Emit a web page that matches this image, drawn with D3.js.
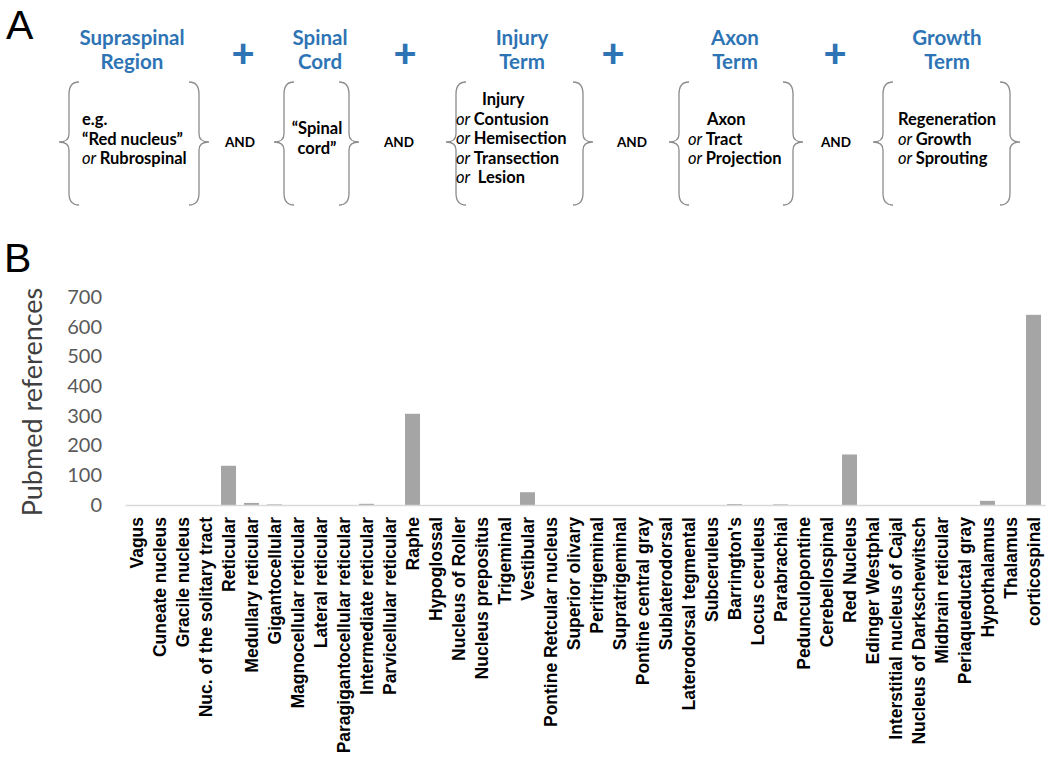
<!DOCTYPE html>
<html>
<head>
<meta charset="utf-8">
<script src="https://cdn.jsdelivr.net/npm/d3@7"></script>
<style>
  html, body { margin: 0; padding: 0; background: #fff; }
  svg { display: block; }
</style>
</head>
<body>
<svg id="chart" width="1050" height="761"></svg>
<script>
// ---------------- DATA ----------------
const categories = [
  "Vagus", "Cuneate nucleus", "Gracile nucleus", "Nuc. of the solitary tract",
  "Reticular", "Medullary reticular", "Gigantocellular", "Magnocellular reticular",
  "Lateral reticular", "Paragigantocellular reticular", "Intermediate reticular",
  "Parvicellular reticular", "Raphe", "Hypoglossal", "Nucleus of Roller",
  "Nucleus prepositus", "Trigeminal", "Vestibular", "Pontine Retcular nucleus",
  "Superior olivary", "Peritrigeminal", "Supratrigeminal", "Pontine central gray",
  "Sublaterodorsal", "Laterodorsal tegmental", "Subceruleus", "Barrington's",
  "Locus ceruleus", "Parabrachial", "Pedunculopontine", "Cerebellospinal",
  "Red Nucleus", "Edinger Westphal", "Interstitial nucleus of Cajal",
  "Nucleus of Darkschewitsch", "Midbrain reticular", "Periaqueductal gray",
  "Hypothalamus", "Thalamus", "corticospinal"
];
const pubmedRefs = [
  0, 0, 0, 0,
  132, 7, 2, 0,
  0, 0, 4,
  0, 307, 0, 0,
  0, 0, 43, 0,
  0, 0, 0, 0,
  0, 0, 0, 3,
  0, 2, 0, 0,
  170, 0, 0,
  0, 0, 0,
  14, 0, 640
];
const yTicks = [0, 100, 200, 300, 400, 500, 600, 700];
const yTitle = "Pubmed references";
const panelLabels = ["A", "B"];

// Panel A: search-term boxes
const termHeaders = [
  ["Supraspinal", "Region"],
  ["Spinal", "Cord"],
  ["Injury", "Term"],
  ["Axon", "Term"],
  ["Growth", "Term"]
];
// each line: [italic prefix, bold text]
const termLines = [
  [["", "e.g."], ["", "\u201CRed nucleus\u201D"], ["or", "Rubrospinal"]],
  [["", "\u201CSpinal"], ["", "cord\u201D"]],
  [["", "Injury"], ["or", "Contusion"], ["or", "Hemisection"], ["or", "Transection"], ["or", "\u00A0Lesion"]],
  [["", "Axon"], ["or", "Tract"], ["or", "Projection"]],
  [["", "Regeneration"], ["or", "Growth"], ["or", "Sprouting"]]
];
const joinWord = "AND";
const plusSign = "+";

// ---------------- LAYOUT (positions / styles) ----------------
const layout = {
  headerX: [132, 320, 522, 735, 947],
  plusX: [243, 405, 613, 835],
  andX: [240, 399, 632, 836],
  braceL: [69, 284, 456, 679, 883],
  braceR: [199, 349, 583, 793, 1010],
  textX: [82, 317, 456, 688, 898],
  textAnchor: ["start", "middle", "start", "start", "start"],
  firstIndent: [0, 0, 26, 19, 0],
  firstBase: [125, 134, 105, 125, 125],
  lineGap: [19.6, 20, 19.5, 19.6, 19.6]
};

const svg = d3.select("#chart");
const blue = "#2E74B5";
const sansCal = "Lato, 'Open Sans', sans-serif";

// Panel letters
svg.append("text").attr("x", 6).attr("y", 39).text(panelLabels[0])
  .attr("font-family", "'Liberation Sans', Arial, sans-serif").attr("font-size", 41).attr("fill", "#000");
svg.append("text").attr("x", 4).attr("y", 272).text(panelLabels[1])
  .attr("font-family", "'Liberation Sans', Arial, sans-serif").attr("font-size", 41).attr("fill", "#000");

// Headers
termHeaders.forEach((h, i) => {
  const t = svg.append("text").attr("text-anchor", "middle")
    .attr("font-family", sansCal).attr("font-weight", 700).attr("font-size", 20.5).attr("fill", blue);
  t.append("tspan").attr("x", layout.headerX[i]).attr("y", 45).text(h[0]);
  t.append("tspan").attr("x", layout.headerX[i]).attr("y", 69).text(h[1]);
});

// Plus signs
layout.plusX.forEach(px => {
  svg.append("text").attr("x", px).attr("y", 67).attr("text-anchor", "middle")
    .attr("font-family", sansCal).attr("font-weight", 900).attr("font-size", 40)
    .attr("fill", blue).text(plusSign);
});

// AND
layout.andX.forEach(ax => {
  svg.append("text").attr("x", ax).attr("y", 147).attr("text-anchor", "middle")
    .attr("font-family", sansCal).attr("font-weight", 700).attr("font-size", 13.5)
    .attr("fill", "#000").text(joinWord);
});

// Braces
const bTop = 82, bBot = 205, bMid = 142, bArm = 10, bTip = 10;
function braceLeft(b) {
  return `M${b + bArm},${bTop} Q${b},${bTop} ${b},${bTop + 12} L${b},${bMid - 8} Q${b},${bMid} ${b - bTip},${bMid} ` +
         `Q${b},${bMid} ${b},${bMid + 8} L${b},${bBot - 12} Q${b},${bBot} ${b + bArm},${bBot}`;
}
function braceRight(b) {
  return `M${b - bArm},${bTop} Q${b},${bTop} ${b},${bTop + 12} L${b},${bMid - 8} Q${b},${bMid} ${b + bTip},${bMid} ` +
         `Q${b},${bMid} ${b},${bMid + 8} L${b},${bBot - 12} Q${b},${bBot} ${b - bArm},${bBot}`;
}
layout.braceL.forEach((b, i) => {
  svg.append("path").attr("d", braceLeft(b)).attr("fill", "none").attr("stroke", "#8c8c8c").attr("stroke-width", 1.3);
  svg.append("path").attr("d", braceRight(layout.braceR[i])).attr("fill", "none").attr("stroke", "#8c8c8c").attr("stroke-width", 1.3);
});

// Body text
termLines.forEach((lines, i) => {
  lines.forEach((ln, j) => {
    const t = svg.append("text")
      .attr("x", layout.textX[i] + (j === 0 ? layout.firstIndent[i] : 0))
      .attr("y", layout.firstBase[i] + j * layout.lineGap[i])
      .attr("text-anchor", layout.textAnchor[i])
      .attr("font-family", sansCal).attr("font-size", 16.5).attr("fill", "#000");
    if (ln[0]) {
      t.append("tspan").attr("font-style", "italic").attr("font-weight", 400).text(ln[0] + " ");
    }
    t.append("tspan").attr("font-weight", 700).text(ln[1]);
  });
});

// ---------------- PANEL B: bar chart ----------------
const x = d3.scaleBand().domain(categories).range([125, 1045]).paddingInner(0.35).paddingOuter(0.175);
const y = d3.scaleLinear().domain([0, 700]).range([505, 297]);

svg.append("g").selectAll("rect").data(categories).join("rect")
  .attr("x", d => x(d))
  .attr("width", x.bandwidth())
  .attr("y", (d, i) => y(pubmedRefs[i]))
  .attr("height", (d, i) => y(0) - y(pubmedRefs[i]))
  .attr("fill", "#a5a5a5");

const xAxis = svg.append("g").attr("transform", `translate(0,${y(0)})`)
  .call(d3.axisBottom(x).tickSize(0).tickSizeOuter(0));
xAxis.select(".domain").attr("stroke", "#d9d9d9").attr("stroke-width", 1.5);
xAxis.selectAll("text")
  .attr("transform", "rotate(-90)")
  .attr("x", -12).attr("y", 0).attr("dy", "0.36em")
  .attr("text-anchor", "end")
  .attr("font-family", "'Liberation Sans', Arial, sans-serif")
  .attr("font-weight", 700).attr("font-size", 17.5).attr("fill", "#000");

const yAxis = svg.append("g").attr("transform", "translate(125,0)")
  .call(d3.axisLeft(y).tickValues(yTicks).tickSize(0).tickPadding(23));
yAxis.select(".domain").remove();
yAxis.selectAll("text")
  .attr("font-family", sansCal).attr("font-size", 20).attr("fill", "#595959");

svg.append("text")
  .attr("transform", "translate(42,402) rotate(-90)")
  .attr("text-anchor", "middle")
  .attr("font-family", sansCal).attr("font-size", 27).attr("fill", "#404040")
  .text(yTitle);
</script>
</body>
</html>
